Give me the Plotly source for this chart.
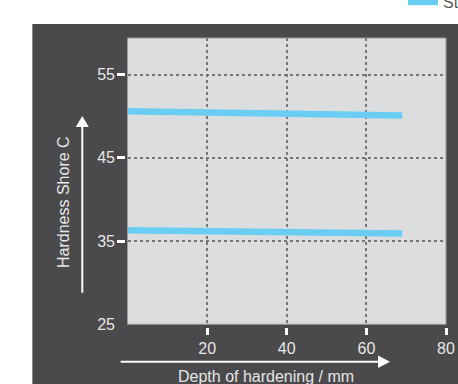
import plotly.graph_objects as go

# ---- data ----
depth = [0, 69]
upper_hardness = [50.6, 50.1]
lower_hardness = [36.3, 35.9]
series_name = "Standard"
x_ticks = [20, 40, 60, 80]
y_ticks = [25, 35, 45, 55]
y_tick_marks = [35, 45, 55]
x_title = "Depth of hardening / mm"
y_title = "Hardness Shore C"

W, H = 458, 384
L, R, T, B = 125, 12, 38, 57
PW, PH = W - L - R, H - T - B


def px(xp):
    return (xp - L) / PW


def py(yp):
    return 1 - (yp - T) / PH


DARK = "#4a4a4c"
PLOT_BG = "#dcdddf"
LINE = "#69cdf4"
LABEL = "#e6e6e6"
GRID = "#777777"
FONT = "Arial, Liberation Sans, sans-serif"

fig = go.Figure()
fig.add_trace(go.Scatter(x=depth, y=upper_hardness, mode="lines", name=series_name,
                         line=dict(color=LINE, width=6.5), showlegend=True))
fig.add_trace(go.Scatter(x=depth, y=lower_hardness, mode="lines", name=series_name,
                         line=dict(color=LINE, width=6.5), showlegend=False))

shapes = [
    # dark panel
    dict(type="rect", xref="paper", yref="paper", x0=px(32), x1=px(470), y0=py(400), y1=py(24),
         fillcolor=DARK, line=dict(width=0), layer="below"),
    dict(type="line", xref="paper", yref="paper", x0=px(32.5), x1=px(32.5), y0=py(400), y1=py(24),
         line=dict(color="#8a8a8a", width=1), layer="below"),
    # plot background
    dict(type="rect", xref="x domain", yref="y domain", x0=0, x1=1, y0=0, y1=1,
         fillcolor=PLOT_BG, line=dict(width=0), layer="below"),
    # plot border
    dict(type="rect", xref="x domain", yref="y domain", x0=0, x1=1, y0=0, y1=1,
         line=dict(color="#9a9a9a", width=1), fillcolor="rgba(0,0,0,0)", layer="above"),
    # y arrow
    dict(type="line", xref="paper", yref="paper", x0=px(82.3), x1=px(82.3), y0=py(292.7), y1=py(126),
         line=dict(color="white", width=2)),
    dict(type="path", xref="paper", yref="paper",
         path=f"M {px(82.3)},{py(116)} L {px(75.8)},{py(127)} L {px(88.8)},{py(127)} Z",
         fillcolor="white", line=dict(width=0)),
    # x arrow
    dict(type="line", xref="paper", yref="paper", x0=px(120.7), x1=px(379), y0=py(361.7), y1=py(361.7),
         line=dict(color="white", width=2)),
    dict(type="path", xref="paper", yref="paper",
         path=f"M {px(390)},{py(361.7)} L {px(378)},{py(355.5)} L {px(378)},{py(368)} Z",
         fillcolor="white", line=dict(width=0)),
]

annotations = [
    dict(text=y_title, xref="paper", yref="paper", x=px(63.5), y=py(202.5), showarrow=False,
         textangle=-90, font=dict(family=FONT, size=16, color=LABEL), xanchor="center", yanchor="middle"),
    dict(text=x_title, xref="paper", yref="paper", x=px(265.8), y=py(376.7), showarrow=False,
         font=dict(family=FONT, size=16, color=LABEL), xanchor="center", yanchor="middle"),
]

fig.update_layout(
    width=W, height=H,
    margin=dict(l=L, r=R, t=T, b=B, autoexpand=False),
    paper_bgcolor="white",
    plot_bgcolor=PLOT_BG,
    font=dict(family=FONT, size=16, color=LABEL),
    shapes=shapes,
    annotations=annotations,
    legend=dict(orientation="h", x=px(403), xanchor="left", y=py(2), yanchor="middle",
                font=dict(family=FONT, size=16, color="#555555"), bgcolor="rgba(0,0,0,0)"),
    xaxis=dict(range=[0, 80], domain=[(127.5 - L) / PW, 1], anchor="free", position=0,
               tickmode="array", tickvals=x_ticks, ticks="outside", ticklen=7, tickwidth=3,
               tickcolor="white", showgrid=True, gridcolor=GRID, gridwidth=1.5, griddash="dot",
               zeroline=False, showline=False, automargin=False,
               tickfont=dict(family=FONT, size=16, color=LABEL)),
    yaxis=dict(range=[25, 59.4], domain=[(327 - 324.3) / PH, 1], anchor="free", position=0,
               tickmode="array", tickvals=y_ticks, ticks="", ticklabelstandoff=10,
               minor=dict(tickmode="array", tickvals=y_tick_marks, ticks="outside", ticklen=8,
                          tickwidth=3, tickcolor="white", showgrid=False),
               showgrid=True, gridcolor=GRID, gridwidth=1.5, griddash="dot",
               zeroline=False, showline=False, automargin=False,
               tickfont=dict(family=FONT, size=16, color=LABEL)),
)

fig.write_html("out.html", config={"displayModeBar": False},
               post_script="document.body.style.margin='0';document.body.style.overflow='hidden';")
